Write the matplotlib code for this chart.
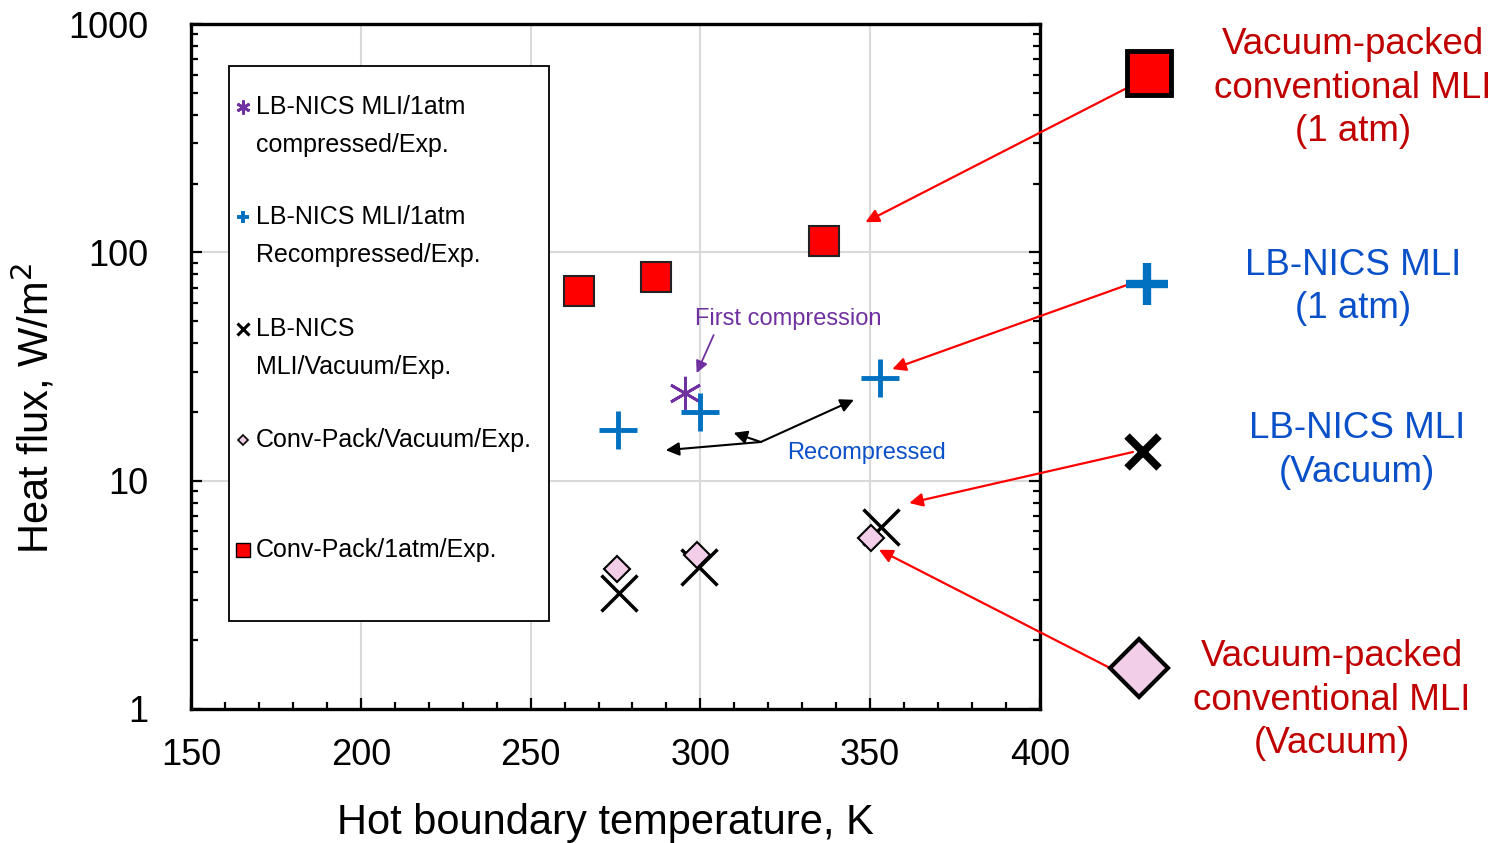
import matplotlib
matplotlib.use('Agg')
import matplotlib.pyplot as plt
from matplotlib.lines import Line2D
from matplotlib.patches import Rectangle

plt.rcParams['font.family'] = ['Liberation Sans', 'DejaVu Sans']

# data
conv_atm_T = [264.2, 287.0, 336.5]
conv_atm_q = [67.7, 78.2, 112.4]

nics_first_T = [295.6]
nics_first_q = [24.1]

nics_recomp_T = [275.6, 300.0, 352.9]
nics_recomp_q = [16.7, 19.9, 28.1]

nics_vac_T = [275.9, 299.7, 353.1]
nics_vac_q = [3.21, 4.20, 6.29]

conv_vac_T = [275.4, 299.0, 350.2]
conv_vac_q = [4.09, 4.73, 5.60]

legend_labels = [
    ['LB-NICS MLI/1atm', 'compressed/Exp.'],
    ['LB-NICS MLI/1atm', 'Recompressed/Exp.'],
    ['LB-NICS', 'MLI/Vacuum/Exp.'],
    ['Conv-Pack/Vacuum/Exp.'],
    ['Conv-Pack/1atm/Exp.'],
]

side_labels = [
    'Vacuum-packed\nconventional MLI\n(1 atm)',
    'LB-NICS MLI\n(1 atm)',
    'LB-NICS MLI\n(Vacuum)',
    'Vacuum-packed\nconventional MLI\n(Vacuum)',
]

RED = '#FF0000'
BLUE = '#0070C0'
PURPLE = '#7030A0'
PINK = '#F2CEE8'
TXT_RED = '#C00000'
TXT_BLUE = '#0A50C8'

fig = plt.figure(figsize=(14.99, 8.43), dpi=100)
ax = fig.add_axes([0.1274, 0.1590, 0.5664, 0.8125])

# --- data ---
ax.plot(nics_vac_T, nics_vac_q, ls='none', marker='x', ms=26, mew=2.5,
        color='black', zorder=3)
ax.plot(conv_vac_T, conv_vac_q, ls='none', marker='D', ms=13.5, mew=1.5,
        mfc=PINK, mec='black', zorder=4)
ax.plot(nics_first_T, nics_first_q, ls='none', marker=(6, 2, 0), ms=24,
        mew=2, color=PURPLE, zorder=4)
ax.plot(nics_recomp_T, nics_recomp_q, ls='none', marker='+', ms=27, mew=3.5,
        color=BLUE, zorder=5)
ax.plot(conv_atm_T, conv_atm_q, ls='none', marker='s', ms=21, mew=1.5,
        mfc=RED, mec='#222222', zorder=5)

ax.set_yscale('log')
ax.set_xlim(150, 400)
ax.set_ylim(1, 1000)
ax.set_xticks([150, 200, 250, 300, 350, 400])
ax.set_xticks(range(160, 400, 10), minor=True)
ax.set_yticks([1, 10, 100, 1000])
ax.set_yticklabels(['1', '10', '100', '1000'])
ax.grid(True, which='major', color='#D9D9D9', lw=1.5)
ax.set_axisbelow(True)

ax.tick_params(which='both', direction='in', left=True, right=True,
               top=False, bottom=True, width=1.6)
ax.tick_params(which='major', length=8)
ax.tick_params(which='minor', length=5)
ax.tick_params(axis='x', which='major', labelsize=26, pad=21)
ax.tick_params(axis='y', which='major', labelsize=26, pad=31)
for s in ax.spines.values():
    s.set_linewidth(2.4)

ax.set_xlabel('Hot boundary temperature, K', fontsize=30)
ax.set_ylabel('Heat flux, W/m$^2$', fontsize=30)
ax.xaxis.set_label_coords(0.4876, -0.137)
ax.yaxis.set_label_coords(-0.157, 0.439)

# --- hand-made legend box ---
ax.add_patch(Rectangle((0.0448, 0.1285), 0.3769, 0.8102, transform=ax.transAxes,
                       fill=True, fc='white', ec='black', lw=1.3, zorder=6))
leg_y = [0.8788, 0.7182, 0.5547, 0.3927, 0.2321]
leg_styles = [
    dict(marker=(6, 2, 0), ms=10, mew=2, color=PURPLE),
    dict(marker='+', ms=9, mew=2.8, color=BLUE),
    dict(marker='x', ms=9, mew=2.2, color='black'),
    dict(marker='D', ms=5.5, mew=1.2, mfc=PINK, mec='black'),
    dict(marker='s', ms=10, mew=1, mfc=RED, mec='black'),
]
for y, lines, st in zip(leg_y, legend_labels, leg_styles):
    ax.plot([0.0612], [y], ls='none', transform=ax.transAxes, clip_on=False,
            zorder=7, **st)
    for k, line in enumerate(lines):
        ax.text(0.0766, y - k * 0.0555, line, transform=ax.transAxes,
                fontsize=18, va='center', ha='left', zorder=7)

# --- in-plot annotations ---
ax.text(326, 51.0, 'First compression', color=PURPLE, fontsize=17,
        ha='center', va='center')
ax.annotate('', xy=(298.9, 29.6), xytext=(303.9, 43.4),
            arrowprops=dict(arrowstyle='-|>', color=PURPLE, lw=1.3,
                            mutation_scale=18, shrinkA=0, shrinkB=0))
ax.text(348.8, 13.2, 'Recompressed', color=TXT_BLUE, fontsize=17,
        ha='center', va='center')
junction = (317.8, 14.77)
for tip in [(345.2, 22.6), (289.8, 13.6), (309.8, 16.2)]:
    ax.annotate('', xy=tip, xytext=junction,
                arrowprops=dict(arrowstyle='-|>', color='black', lw=1.5,
                                mutation_scale=20, shrinkA=0, shrinkB=0))

# --- side keys with red pointers ---
side_tips = [(348.6, 135.6), (356.5, 30.8), (361.5, 7.98), (352.6, 4.98)]
side_start = [(0.7518, 0.8956), (0.7518, 0.6619), (0.7558, 0.4638), (0.7405, 0.2076)]
for tip, start in zip(side_tips, side_start):
    ax.annotate('', xy=tip, xycoords='data', xytext=start,
                textcoords='figure fraction', annotation_clip=False,
                arrowprops=dict(arrowstyle='-|>', color='red', lw=1.6,
                                mutation_scale=20, shrinkA=0, shrinkB=0))

side_marks = [
    ((0.7665, 0.9134), dict(marker='s', ms=31, mew=3.5, mfc=RED, mec='black')),
    ((0.7652, 0.6631), dict(marker='+', ms=30, mew=6, color=BLUE)),
    ((0.7625, 0.4638), dict(marker='x', ms=23, mew=5.5, color='black')),
    ((0.7598, 0.2076), dict(marker='D', ms=30, mew=3, mfc=PINK, mec='black')),
]
for (fx, fy), st in side_marks:
    fig.add_artist(Line2D([fx], [fy], transform=fig.transFigure, ls='none',
                          zorder=10, **st))

side_pos = [(0.9026, 0.8956), (0.9026, 0.6596), (0.9053, 0.4656), (0.8886, 0.1696)]
side_cols = [TXT_RED, TXT_BLUE, TXT_BLUE, TXT_RED]
for (fx, fy), txt, c in zip(side_pos, side_labels, side_cols):
    fig.text(fx, fy, txt, color=c, fontsize=26.5, ha='center', va='center',
             linespacing=1.3)

fig.savefig('out.png', dpi=100)
